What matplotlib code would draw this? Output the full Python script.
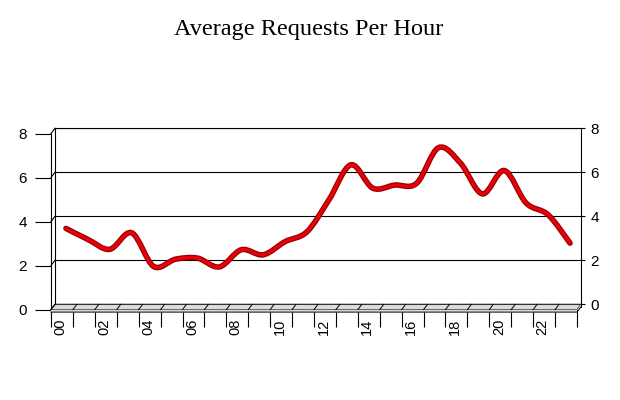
import numpy as np
import matplotlib
matplotlib.use("Agg")
import matplotlib.pyplot as plt
from matplotlib.path import Path
from matplotlib.patches import PathPatch, Polygon
from matplotlib.lines import Line2D
from matplotlib.transforms import Affine2D, ScaledTranslation

plt.rcParams['font.family'] = ['Liberation Sans', 'DejaVu Sans']

# data
hours = ["%02d" % h for h in range(24)]
avg_requests = [3.45, 2.95, 2.5, 3.25, 1.72, 2.05, 2.1, 1.7, 2.48, 2.25, 2.85, 3.3,
                4.75, 6.34, 5.28, 5.42, 5.5, 7.12, 6.42, 5.02, 6.08, 4.6, 4.07, 2.78]
y_ticks = [0, 2, 4, 6, 8]

W, H = 620, 400
fig = plt.figure(figsize=(W / 100, H / 100), dpi=100)
fig.patch.set_facecolor("white")

# back wall box in pixels (from top-left), and the depth shift to the front
bx0, bx1, by_top, by_bot = 55, 581, 128.3, 304.3
dx, dy = -4, 5.3
n = len(hours)

# figure pixel coords, origin top-left
px = Affine2D().scale(1 / W, -1 / H).translate(0, 1) + fig.transFigure

# back plane: gridlines + right axis
ax = fig.add_axes([bx0 / W, 1 - by_bot / H, (bx1 - bx0) / W, (by_bot - by_top) / H])
ax.set_xlim(-0.5, n - 0.5)
ax.set_ylim(0, 8)
ax.set_xticks([])
ax.set_yticks(y_ticks)
ax.yaxis.tick_right()
ax.tick_params(axis='y', direction='out', length=3, width=0.8, labelsize=11, pad=4)
ax.grid(axis='y', color='black', lw=0.8)
ax.spines['bottom'].set_visible(False)
for s in ax.spines.values():
    s.set_linewidth(0.8)

# front plane: left axis, category ticks and labels
axf = fig.add_axes([(bx0 + dx) / W, 1 - (by_bot + dy) / H, (bx1 - bx0) / W, (by_bot - by_top) / H])
axf.patch.set_alpha(0)
axf.set_xlim(-0.5, n - 0.5)
axf.set_ylim(0, 8)
axf.spines['top'].set_visible(False)
axf.spines['right'].set_visible(False)
axf.spines['left'].set_linewidth(0.8)
axf.spines['left'].set_bounds(-0.1, 8)
axf.spines['bottom'].set_position(('outward', 1.8))
axf.spines['bottom'].set_visible(False)
axf.set_yticks(y_ticks)
axf.tick_params(axis='y', direction='out', length=11.5, width=0.8, labelsize=11, pad=6)
axf.set_xticks(np.arange(n + 1) - 0.5)
axf.set_xticklabels([])
axf.tick_params(axis='x', which='major', direction='out', length=11, width=0.8)
axf.set_xticks(np.arange(0, n, 2), minor=True)
axf.set_xticklabels(hours[::2], minor=True, rotation=90)
axf.tick_params(axis='x', which='minor', length=0, pad=4.5, labelsize=10.5)
shift = ScaledTranslation(-1.5 / 100, 0, fig.dpi_scale_trans)
for lbl in axf.get_xticklabels(minor=True):
    lbl.set_transform(lbl.get_transform() + shift)

# left wall: little slanted joins at each gridline
for v in y_ticks:
    yb = by_bot - v / 8 * (by_bot - by_top)
    fig.add_artist(Line2D([bx0, bx0 + dx], [yb, yb + dy], color='black', lw=0.8, transform=px))

# floor: top face, thin front face and slanted category lines
fig.add_artist(Polygon([[bx0 + dx, by_bot + dy], [bx1 + dx, by_bot + dy], [bx1, by_bot], [bx0, by_bot]],
                       closed=True, facecolor='#dcdcdc', edgecolor='black', lw=0.7, transform=px))
fig.add_artist(Polygon([[bx0 + dx, by_bot + dy], [bx1 + dx, by_bot + dy], [bx1, by_bot],
                        [bx1, by_bot + 2.5], [bx1 + dx, by_bot + dy + 2.5], [bx0 + dx, by_bot + dy + 2.5]],
                       closed=True, facecolor='#dcdcdc', edgecolor='none', transform=px))
fig.add_artist(Line2D([bx0 + dx, bx1 + dx, bx1], [by_bot + dy + 2.5, by_bot + dy + 2.5, by_bot + 2.5],
                      color='black', lw=0.7, transform=px))
fig.add_artist(Line2D([bx1 + dx, bx1 + dx], [by_bot + dy, by_bot + dy + 2.5], color='black', lw=0.7, transform=px))
fig.add_artist(Line2D([bx1, bx1], [by_bot, by_bot + 2.5], color='black', lw=0.7, transform=px))
step = (bx1 - bx0) / n
for k in range(1, n):
    xb = bx0 + k * step
    fig.add_artist(Line2D([xb, xb + dx], [by_bot, by_bot + dy], color='black', lw=0.7, transform=px))

# smooth line through the hourly values (catmull-rom as bezier)
P = np.column_stack([np.arange(n), avg_requests])
Pe = np.vstack([P[0], P, P[-1]])
verts = [P[0]]
codes = [Path.MOVETO]
for i in range(n - 1):
    p0, p1, p2, p3 = Pe[i], Pe[i + 1], Pe[i + 2], Pe[i + 3]
    verts += [p1 + (p2 - p0) / 6, p2 - (p3 - p1) / 6, p2]
    codes += [Path.CURVE4] * 3
curve = Path(verts, codes)
ax.add_patch(PathPatch(curve, facecolor='none', edgecolor='#9a0000', lw=4.0, capstyle='round', zorder=3))
ax.add_patch(PathPatch(curve, facecolor='none', edgecolor='#e8000a', lw=2.2, capstyle='round', zorder=4))

fig.text(308.5 / W, 1 - 35 / H, "Average Requests Per Hour", ha='center', va='baseline',
         family=['Liberation Serif', 'DejaVu Serif'], fontsize=17.5)

fig.savefig("out.png", dpi=100)
